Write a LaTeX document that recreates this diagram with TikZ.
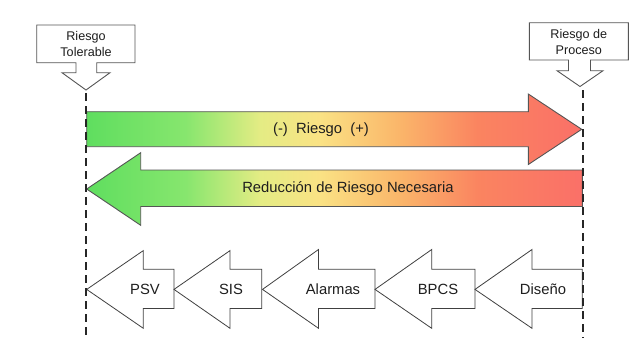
\documentclass[tikz,border=0pt]{standalone}
\usepackage{fontspec}
\setmainfont{Liberation Sans}
\definecolor{gA}{RGB}{95,222,95}
\definecolor{gB}{RGB}{135,230,110}
\definecolor{yA}{RGB}{228,236,132}
\definecolor{yB}{RGB}{250,226,132}
\definecolor{oA}{RGB}{250,182,106}
\definecolor{oB}{RGB}{250,132,96}
\definecolor{rA}{RGB}{250,112,104}
\definecolor{edge}{RGB}{85,85,85}
\definecolor{txt}{RGB}{30,30,30}
\pgfdeclarehorizontalshading{riskshade}{100bp}{color(0bp)=(gA); color(25bp)=(gA); color(35bp)=(gB); color(42.5bp)=(yA); color(48.5bp)=(yB); color(56.5bp)=(oA); color(64.5bp)=(oB); color(75bp)=(rA); color(100bp)=(rA)}
\tikzset{
  callout/.style={draw=edge, line width=0.9pt, fill=white},
  bigarrow/.style={draw=edge, line width=0.9pt, shading=riskshade},
  blockarrow/.style={draw=black!75, line width=0.8pt, fill=white},
  guide/.style={draw=black!85, line width=1.3pt, dash pattern=on 8pt off 5pt},
  lbl/.style={text=txt, font=\fontsize{14.8}{16}\selectfont, inner sep=0pt},
  smalllbl/.style={text=txt, font=\fontsize{12.6}{16}\selectfont, align=center, inner sep=0pt}
}
\begin{document}
\begin{tikzpicture}[x=1pt,y=-1pt]
\useasboundingbox (0,0) rectangle (634,346);
% callouts
\path[callout] (36.7,25) -- (135,25) -- (135,62.7) -- (96.7,62.7) -- (96.7,72.7) -- (110,72.7) -- (86,90) -- (62,72.7) -- (76,72.7) -- (76,62.7) -- (36.7,62.7) -- cycle;
\coordinate (tolTip) at (86,90);
\node[smalllbl] (tolText) at (86,44) {Riesgo\\Tolerable};
\path[callout] (529.3,22.7) -- (628.3,22.7) -- (628.3,60) -- (590.5,60) -- (590.5,70.7) -- (603,70.7) -- (580,86.5) -- (557,70.7) -- (568.5,70.7) -- (568.5,60) -- (529.3,60) -- cycle;
\coordinate (procTip) at (580,86.5);
\node[smalllbl] (procText) at (578.8,42) {Riesgo de\\Proceso};
% big arrows
\path[bigarrow] (86.7,111.7) -- (528.3,111.7) -- (528.3,94) -- (581.7,129.3) -- (528.3,164.5) -- (528.3,146.7) -- (86.7,146.7) -- cycle;
\node[lbl] (riesgo) at (321,129.3) {(-)\ \ Riesgo\ \ (+)};
\path[bigarrow] (86.7,189) -- (140.7,152.7) -- (140.7,170) -- (582.3,170) -- (582.3,206.5) -- (140.7,206.5) -- (140.7,225.3) -- cycle;
\node[lbl] (reduccion) at (348,188.5) {Reducción de Riesgo Necesaria};
% layer arrows
\path[blockarrow] (86.7,289.4) -- (143.3,250.6) -- (143.3,269.3) -- (174,269.3) -- (174,308.4) -- (143.3,308.4) -- (143.3,328.3) -- cycle;
\node[lbl] (psv) at (145,289.4) {PSV};
\path[blockarrow] (174,289.4) -- (230,250.6) -- (230,269.3) -- (261.7,269.3) -- (261.7,308.4) -- (230,308.4) -- (230,328.3) -- cycle;
\node[lbl] (sis) at (231,289.4) {SIS};
\path[blockarrow] (262.5,289.4) -- (318.5,249.5) -- (318.5,269.3) -- (375,269.3) -- (375,308.4) -- (318.5,308.4) -- (318.5,328.3) -- cycle;
\node[lbl] (alarmas) at (333,289.4) {Alarmas};
\path[blockarrow] (375,289.4) -- (431.7,249.5) -- (431.7,269.3) -- (475,269.3) -- (475,308.4) -- (431.7,308.4) -- (431.7,328.3) -- cycle;
\node[lbl] (bpcs) at (438,289.4) {BPCS};
\path[blockarrow] (475,289.4) -- (532,249.5) -- (532,269.3) -- (582.3,269.3) -- (582.3,308.4) -- (532,308.4) -- (532,328.3) -- cycle;
\node[lbl] (diseno) at (543,289.4) {Diseño};
% guide lines
\coordinate (tolEnd) at (86,338);
\coordinate (procEnd) at (583,338);
\draw[guide] (86,93) -- (tolEnd);
\draw[guide] (583,90) -- (procEnd);
\end{tikzpicture}
\end{document}
